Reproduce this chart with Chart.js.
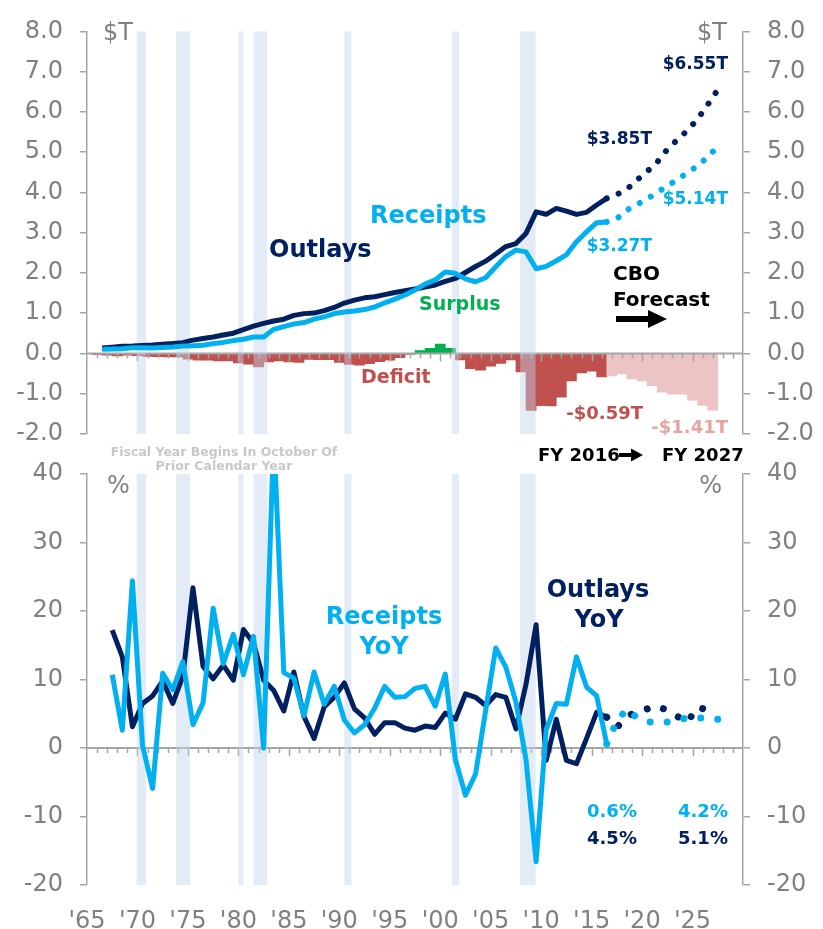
<!DOCTYPE html>
<html>
<head>
<meta charset="utf-8">
<script src="https://cdn.jsdelivr.net/npm/chart.js@4.4.1/dist/chart.umd.min.js"></script>
<style>
  html, body { margin: 0; padding: 0; background: #fff; }
  #wrap { position: relative; width: 823px; height: 929px; }
  #wrap canvas { position: absolute; left: 0; top: 0; }
</style>
</head>
<body>
<div id="wrap">
  <canvas id="levelChart" width="823" height="929"></canvas>
  <canvas id="yoyChart" width="823" height="929"></canvas>
</div>
<script>
// --- Data (fiscal years, $T and % YoY) ---
const actualYears = [1966,1967,1968,1969,1970,1971,1972,1973,1974,1975,1976,1977,1978,1979,1980,1981,1982,1983,1984,1985,
  1986,1987,1988,1989,1990,1991,1992,1993,1994,1995,1996,1997,1998,1999,2000,2001,2002,2003,2004,2005,
  2006,2007,2008,2009,2010,2011,2012,2013,2014,2015,2016];
const outlays = [0.135,0.158,0.178,0.184,0.196,0.210,0.231,0.246,0.269,0.332,0.372,0.409,0.459,0.504,0.591,0.678,0.746,0.808,0.852,0.946,
  0.990,1.004,1.065,1.144,1.253,1.324,1.382,1.409,1.462,1.516,1.560,1.601,1.652,1.702,1.789,1.863,2.011,2.160,2.293,2.472,
  2.655,2.729,2.983,3.518,3.457,3.603,3.537,3.455,3.506,3.688,3.853];
const receipts = [0.102,0.113,0.116,0.144,0.144,0.136,0.150,0.163,0.184,0.190,0.203,0.245,0.275,0.320,0.355,0.410,0.410,0.600,0.666,0.734,
  0.769,0.854,0.909,0.991,1.032,1.055,1.091,1.154,1.259,1.351,1.453,1.579,1.722,1.827,2.025,1.991,1.853,1.782,1.880,2.153,
  2.407,2.568,2.524,2.105,2.163,2.303,2.450,2.775,3.021,3.250,3.268];
const deficit = [-0.030,-0.045,-0.062,-0.040,-0.052,-0.074,-0.081,-0.083,-0.085,-0.142,-0.169,-0.164,-0.184,-0.184,-0.236,-0.268,-0.336,-0.208,-0.185,-0.212,
  -0.221,-0.150,-0.155,-0.153,-0.221,-0.269,-0.290,-0.255,-0.203,-0.164,-0.107,-0.022,0.069,0.126,0.236,0.128,-0.158,-0.378,-0.413,-0.318,
  -0.248,-0.161,-0.459,-1.413,-1.294,-1.300,-1.087,-0.680,-0.485,-0.438,-0.585];

const forecastYears = [2016,2017,2018,2019,2020,2021,2022,2023,2024,2025,2026,2027];
const outlaysForecast = [3.853,3.95,4.08,4.31,4.52,4.75,5.07,5.31,5.54,5.82,6.18,6.55];
const receiptsForecast = [3.268,3.35,3.56,3.70,3.84,4.00,4.16,4.32,4.49,4.66,4.88,5.14];
const deficitForecastYears = [2017,2018,2019,2020,2021,2022,2023,2024,2025,2026,2027];
const deficitForecast = [-0.56,-0.51,-0.63,-0.68,-0.80,-0.96,-1.01,-1.01,-1.16,-1.29,-1.41];

const yoyYears = actualYears.slice(1);
const outlaysYoY = [17.2,13.3,3.1,6.5,7.6,9.8,6.5,10.5,23.4,11.9,10.1,12.1,9.9,17.3,15.3,9.9,8.4,5.4,11.1,
  4.6,1.4,6.0,7.4,9.5,5.7,4.4,2.0,3.7,3.7,2.9,2.6,3.2,3.0,5.1,4.2,7.9,7.4,6.2,7.8,
  7.4,2.8,9.3,18.0,-1.8,4.2,-1.8,-2.3,1.4,5.2,4.5];
const receiptsYoY = [10.7,2.6,24.4,0.4,-5.9,10.9,8.5,12.6,3.4,6.6,20.4,12.3,16.6,10.7,16.3,0.0,46.0,11.0,10.2,
  4.7,11.1,6.4,9.0,4.1,2.2,3.4,5.8,9.0,7.4,7.5,8.7,9.0,6.1,10.8,-1.7,-6.9,-3.8,5.5,14.6,
  11.8,6.7,-1.7,-16.6,2.7,6.5,6.4,13.3,8.9,7.6,0.6];
const outlaysYoYForecast = [4.5,3.0,4.6,5.3,5.7,6.1,5.5,4.6,3.8,6.0,5.5,5.1];
const receiptsYoYForecast = [0.6,3.9,5.7,4.4,3.8,3.8,3.8,4.1,4.4,4.4,4.3,4.2];

// recessions as decimal dates [start, end]
const recessionStart = [1969.92,1973.83,1980.0,1981.5,1990.5,2001.17,2007.92];
const recessionEnd   = [1970.87,1975.2,1980.5,1982.87,1991.2,2001.87,2009.45];

const xLabelYears = [1965,1970,1975,1980,1985,1990,1995,2000,2005,2010,2015,2020,2025];
const dollarTicks = [-2,-1,0,1,2,3,4,5,6,7,8];
const pctTicks = [-20,-10,0,10,20,30,40];

// --- Styles ---
const FONT = "'DejaVu Sans', Verdana, sans-serif";
const NAVY = "#002060", SKY = "#00B0F0", RED = "#C0504D", PINK = "#EBC4C3", GREEN = "#00B050";
const GRAY = "#A6A6A6", LABEL = "#808080";
const MID = 0.5; // lines plotted mid fiscal year
const LAST_ACTUAL = 2016;

const pts = (years, vals, shift) => years.map((yr, i) => ({ x: yr + shift, y: vals[i] }));

function yAxis(position, min, max, ticks, fmt) {
  return {
    type: "linear", position, min, max,
    afterBuildTicks: s => { s.ticks = ticks.map(v => ({ value: v })); },
    afterFit: s => { s.width = position === "left" ? 87 : 80; },
    grid: { drawOnChartArea: false, drawTicks: true, tickLength: 7, color: GRAY, lineWidth: 1.5 },
    border: { display: true, color: GRAY, width: 1.5 },
    ticks: { color: LABEL, font: { family: FONT, size: 24 }, padding: 17, callback: fmt }
  };
}

// zero line + yearly ticks + recession shading, drawn under the lines
const framePlugin = {
  id: "frame",
  beforeDraw(chart) { chart.$frameDone = false; },
  beforeDatasetDraw(chart, args) {
    if (chart.$frameDone || args.meta.type !== "line") return;
    chart.$frameDone = true;
    const { ctx, chartArea: a } = chart;
    const xs = chart.scales.x, y0 = chart.scales.y.getPixelForValue(0);
    ctx.save();
    ctx.strokeStyle = GRAY;
    ctx.lineWidth = 1.5;
    for (let yr = 1966; yr < 2030; yr++) {
      const px = Math.round(xs.getPixelForValue(yr)) + 0.5;
      ctx.beginPath();
      ctx.moveTo(px, y0);
      ctx.lineTo(px, y0 + (yr % 5 === 0 ? 8 : 5));
      ctx.stroke();
    }
    ctx.lineWidth = 2;
    ctx.beginPath();
    ctx.moveTo(a.left, y0);
    ctx.lineTo(a.right, y0);
    ctx.stroke();
    ctx.fillStyle = "rgba(190,210,235,0.45)";
    recessionStart.forEach((s, i) => {
      const x1 = xs.getPixelForValue(s), x2 = xs.getPixelForValue(recessionEnd[i]);
      ctx.fillRect(x1, a.top, x2 - x1, a.bottom - a.top);
    });
    ctx.restore();
  }
};

function drawArrow(ctx, a) {
  ctx.fillStyle = "#000";
  ctx.fillRect(a.x1, a.y - a.t / 2, a.hx - a.x1, a.t);
  ctx.beginPath();
  ctx.moveTo(a.hx, a.y - a.h / 2);
  ctx.lineTo(a.x2, a.y);
  ctx.lineTo(a.hx, a.y + a.h / 2);
  ctx.closePath();
  ctx.fill();
}

const notesPlugin = {
  id: "notes",
  afterDraw(chart, args, opts) {
    const ctx = chart.ctx;
    ctx.save();
    ctx.textBaseline = "alphabetic";
    (opts.items || []).forEach(n => {
      ctx.font = (n.bold === false ? "" : "bold ") + n.size + "px " + FONT;
      ctx.fillStyle = n.color;
      ctx.textAlign = n.align || "left";
      ctx.fillText(n.text, n.x, n.y);
    });
    (opts.arrows || []).forEach(a => drawArrow(ctx, a));
    ctx.restore();
  }
};

const lineDs = (data, color, order, dotted, gap, dotSize) => ({
  type: "line", data, borderColor: color, borderWidth: dotted ? dotSize : 5,
  borderDash: dotted ? [0.01, gap] : [], borderCapStyle: dotted ? "round" : "butt",
  borderJoinStyle: "round", pointRadius: 0, tension: 0, order, clip: 0
});

// --- Top chart: levels ---
const barPts = pts(actualYears, deficit, 0).concat(pts(deficitForecastYears, deficitForecast, 0));

new Chart(document.getElementById("levelChart"), {
  type: "line",
  data: {
    datasets: [
      { type: "bar", data: barPts, order: 10, borderWidth: 0, barPercentage: 1, categoryPercentage: 1,
        backgroundColor: c => c.raw && c.raw.x > LAST_ACTUAL ? PINK : (c.raw && c.raw.y >= 0 ? GREEN : RED) },
      lineDs(pts(actualYears, outlays, MID), NAVY, 4, false),
      lineDs(pts(actualYears, receipts, MID), SKY, 3, false),
      lineDs(pts(forecastYears, outlaysForecast, MID), NAVY, 2, true, 12.8, 6),
      lineDs(pts(forecastYears, receiptsForecast, MID), SKY, 1, true, 12.8, 6)
    ]
  },
  options: {
    responsive: false, animation: false,
    layout: { padding: { top: 20, bottom: 495, left: 0, right: 0 } },
    scales: {
      x: { type: "linear", min: 1965, max: 2030, display: false, offset: false },
      y: yAxis("left", -2, 8, dollarTicks, v => v.toFixed(1)),
      yR: yAxis("right", -2, 8, dollarTicks, v => v.toFixed(1))
    },
    plugins: {
      legend: { display: false }, tooltip: { enabled: false },
      notes: {
        items: [
          { text: "$T", x: 103, y: 40, color: LABEL, size: 24, bold: false },
          { text: "$T", x: 727, y: 40, color: LABEL, size: 24, bold: false, align: "right" },
          { text: "Outlays", x: 269, y: 257, color: NAVY, size: 24 },
          { text: "Receipts", x: 370, y: 223, color: SKY, size: 24 },
          { text: "Surplus", x: 419, y: 310, color: GREEN, size: 19 },
          { text: "Deficit", x: 361, y: 383, color: RED, size: 19 },
          { text: "$6.55T", x: 728, y: 69, color: NAVY, size: 17, align: "right" },
          { text: "$3.85T", x: 652, y: 144, color: NAVY, size: 17, align: "right" },
          { text: "$5.14T", x: 728, y: 204, color: SKY, size: 17, align: "right" },
          { text: "$3.27T", x: 652, y: 251, color: SKY, size: 17, align: "right" },
          { text: "CBO", x: 613, y: 280, color: "#000", size: 20 },
          { text: "Forecast", x: 613, y: 306, color: "#000", size: 20 },
          { text: "-$0.59T", x: 643, y: 419, color: RED, size: 18, align: "right" },
          { text: "-$1.41T", x: 728, y: 433, color: "#E8A3A2", size: 18, align: "right" },
          { text: "FY 2016", x: 538, y: 461, color: "#000", size: 18 },
          { text: "FY 2027", x: 662, y: 461, color: "#000", size: 18 },
          { text: "Fiscal Year Begins In October Of", x: 224, y: 456, color: "#C8C8C8", size: 12.5, align: "center" },
          { text: "Prior Calendar Year", x: 224, y: 470, color: "#C8C8C8", size: 12.5, align: "center" }
        ],
        arrows: [
          { x1: 616, hx: 648, x2: 667, y: 319, t: 6, h: 18 },
          { x1: 619, hx: 631, x2: 643, y: 455, t: 4, h: 13 }
        ]
      }
    }
  },
  plugins: [framePlugin, notesPlugin]
});

// --- Bottom chart: YoY % ---
new Chart(document.getElementById("yoyChart"), {
  type: "line",
  data: {
    datasets: [
      lineDs(pts(yoyYears, outlaysYoY, MID), NAVY, 4, false),
      lineDs(pts(yoyYears, receiptsYoY, MID), SKY, 3, false),
      lineDs(pts(forecastYears, outlaysYoYForecast, MID), NAVY, 2, true, 17, 7),
      lineDs(pts(forecastYears, receiptsYoYForecast, MID), SKY, 1, true, 17, 7)
    ]
  },
  options: {
    responsive: false, animation: false,
    layout: { padding: { top: 474, bottom: 0, left: 0, right: 0 } },
    scales: {
      x: {
        type: "linear", min: 1965, max: 2030, offset: false,
        afterBuildTicks: s => { s.ticks = xLabelYears.map(v => ({ value: v })); },
        afterFit: s => { s.height = 44; },
        grid: { display: false }, border: { display: false },
        ticks: { color: LABEL, font: { family: FONT, size: 24 }, padding: 14, maxRotation: 0, autoSkip: false,
          callback: v => "'" + String(v).slice(2) }
      },
      y: yAxis("left", -20, 40, pctTicks, v => String(v)),
      yR: yAxis("right", -20, 40, pctTicks, v => String(v))
    },
    plugins: {
      legend: { display: false }, tooltip: { enabled: false },
      notes: {
        items: [
          { text: "%", x: 107, y: 493, color: LABEL, size: 24, bold: false },
          { text: "%", x: 722, y: 493, color: LABEL, size: 24, bold: false, align: "right" },
          { text: "Receipts", x: 384, y: 624, color: SKY, size: 24, align: "center" },
          { text: "YoY", x: 384, y: 654, color: SKY, size: 24, align: "center" },
          { text: "Outlays", x: 598, y: 597, color: NAVY, size: 24, align: "center" },
          { text: "YoY", x: 599, y: 627, color: NAVY, size: 24, align: "center" },
          { text: "0.6%", x: 587, y: 817, color: SKY, size: 18 },
          { text: "4.5%", x: 587, y: 844, color: NAVY, size: 18 },
          { text: "4.2%", x: 678, y: 817, color: SKY, size: 18 },
          { text: "5.1%", x: 678, y: 844, color: NAVY, size: 18 }
        ]
      }
    }
  },
  plugins: [framePlugin, notesPlugin]
});
</script>
</body>
</html>
